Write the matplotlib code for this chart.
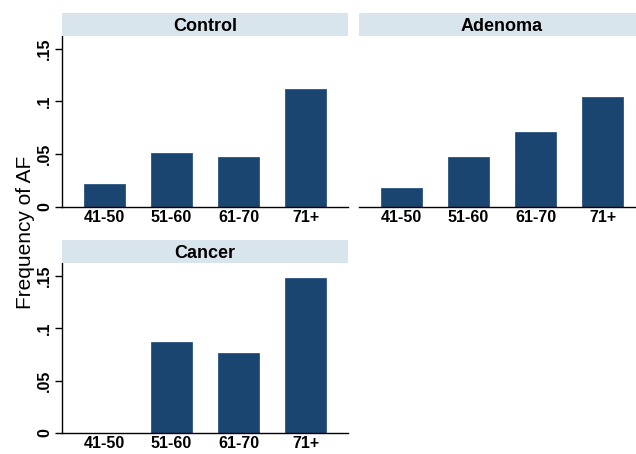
import matplotlib.pyplot as plt

# age groups and frequency of AF per panel
age_groups = ["41-50", "51-60", "61-70", "71+"]
control = [0.0217, 0.0516, 0.0469, 0.1116]
adenoma = [0.0182, 0.0470, 0.0710, 0.1044]
cancer = [0.0, 0.0868, 0.0760, 0.1480]

y_ticks = [0, 0.05, 0.10, 0.15]
y_tick_labels = ["0", ".05", ".1", ".15"]

BAR = "#1a4570"
STRIP = "#d9e5ec"
W, H = 636, 454

plt.rcParams["font.family"] = ["Liberation Sans", "DejaVu Sans"]

fig = plt.figure(figsize=(W / 100, H / 100), dpi=100)


def px_axes(left, right, top, bottom):
    return [left / W, 1 - bottom / H, (right - left) / W, (bottom - top) / H]


def panel(title, values, left, top, bottom, show_y):
    right = left + 286
    ax = fig.add_axes(px_axes(left, right, top, bottom))
    ax.bar(range(len(age_groups)), values, width=0.61, color=BAR,
           edgecolor="#2a5580", linewidth=0.6)
    ax.set_xlim(-0.634, 3.634)
    ax.set_ylim(0, 0.162)
    ax.set_xticks(range(len(age_groups)))
    ax.set_xticklabels(age_groups, fontsize=11.5, fontweight="bold")
    ax.tick_params(axis="x", length=0, pad=2)
    for s in ("top", "right"):
        ax.spines[s].set_visible(False)
    ax.spines["bottom"].set_linewidth(1.0)
    if show_y:
        ax.set_yticks(y_ticks)
        ax.set_yticklabels(y_tick_labels, rotation=90, va="center",
                           fontsize=11.5, fontweight="bold")
        ax.tick_params(axis="y", length=5, width=1, pad=2)
        ax.spines["left"].set_linewidth(1.0)
    else:
        ax.set_yticks([])
        ax.spines["left"].set_visible(False)

    # strip header
    sx = fig.add_axes(px_axes(left, right, top - 23, top))
    sx.set_facecolor(STRIP)
    sx.set_xticks([])
    sx.set_yticks([])
    for s in sx.spines.values():
        s.set_visible(False)
    sx.text(0.5, 0.4, title, ha="center", va="center", fontsize=13,
            fontweight="bold", transform=sx.transAxes)
    return ax


panel("Control", control, 62, 36, 207, True)
panel("Adenoma", adenoma, 359, 36, 207, False)
panel("Cancer", cancer, 62, 263, 433, True)

fig.text(26 / W, 1 - 232 / H, "Frequency of AF", rotation=90,
         ha="center", va="center", fontsize=15)

fig.savefig("out.png", dpi=100, facecolor="white")
